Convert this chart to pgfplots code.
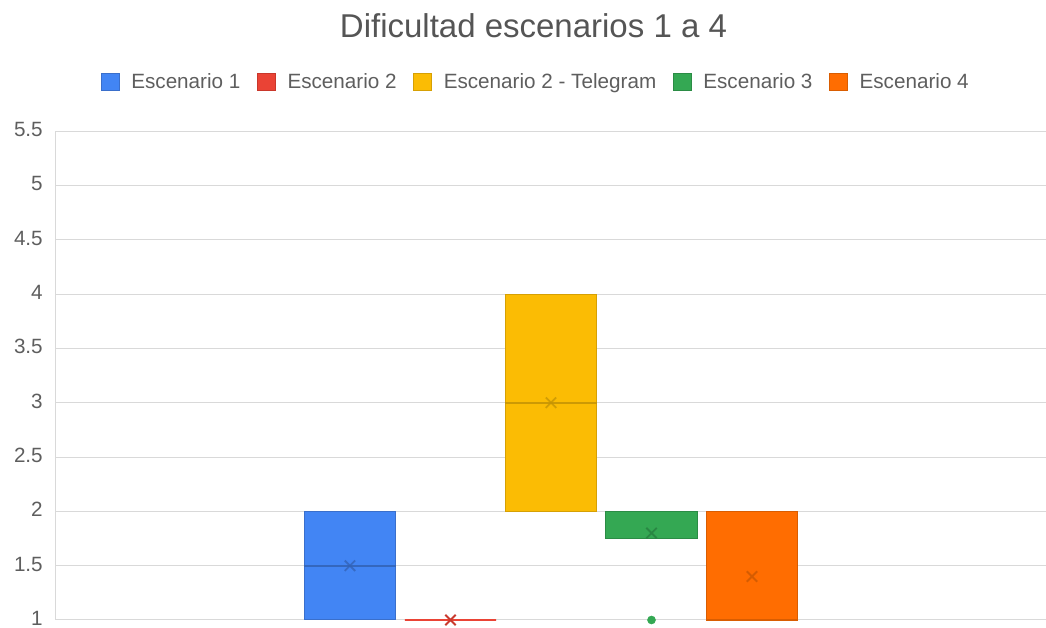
\documentclass[border=0pt]{standalone}
\usepackage{pgfplots}
\pgfplotsset{compat=1.18}
\usepgfplotslibrary{statistics}
\usepackage{fontspec}
\setmainfont{Liberation Sans}

\definecolor{cblue}{HTML}{4285F4}\definecolor{cbluedk}{HTML}{3A6FCB}\definecolor{cbluemk}{HTML}{3262B5}
\definecolor{cred}{HTML}{EA4335}\definecolor{creddk}{HTML}{C9372B}\definecolor{credmk}{HTML}{C93A2E}
\definecolor{cyel}{HTML}{FBBC04}\definecolor{cyeldk}{HTML}{D6A004}\definecolor{cyelmk}{HTML}{C49304}
\definecolor{cgrn}{HTML}{34A853}\definecolor{cgrndk}{HTML}{2B8C45}\definecolor{cgrnmk}{HTML}{267D3E}
\definecolor{corg}{HTML}{FF6D01}\definecolor{corgdk}{HTML}{D95D01}\definecolor{corgmk}{HTML}{C85701}
\definecolor{gridc}{HTML}{D9D9D9}
\definecolor{tickc}{HTML}{5E5E5E}
\definecolor{titlec}{HTML}{555555}

\begin{document}
\begin{tikzpicture}
\begin{axis}[
  at={(0,0)}, anchor=south west,
  scale only axis, width=742.5pt, height=366.75pt,
  xmin=-1.925, xmax=7.925, ymin=1, ymax=5.5,
  xtick=\empty,
  ytick={1,1.5,2,2.5,3,3.5,4,4.5,5,5.5},
  major tick length=0pt,
  ymajorgrids, grid style={gridc, line width=0.75pt},
  axis lines*=left,
  axis line style={gridc, line width=0.75pt},
  clip=false,
  /pgf/number format/assume math mode=true,
  yticklabel style={font=\fontsize{15.5pt}{18pt}\selectfont, text=tickc, inner sep=0pt, xshift=-9.75pt, yshift=1.2pt},
  legend columns=5,
  legend style={at={(0.485,1.1)}, anchor=center, draw=none, fill=none,
    font=\fontsize{15.5pt}{18pt}\selectfont, text=tickc,
    /tikz/every even column/.append style={column sep=10.5pt}},
  legend image code/.code={\draw[#1, line width=0.75pt] (0pt,-6.2pt) rectangle (13.5pt,6.2pt); \path (20.25pt,0pt);},
  boxplot/draw direction=y,
  mean/.style={forget plot, only marks, mark=x, mark size=5.5pt, line width=1.4pt, opacity=0.75},
]

% cajas (min, Q1, mediana, Q3, max)
\addplot[forget plot, fill=cblue, draw=cbluedk, boxplot prepared={draw position=1,
  lower whisker=1, lower quartile=1, median=1.5, upper quartile=2, upper whisker=2,
  box extend=0.91, every box/.style={fill=cblue, draw=cbluedk, line width=0.75pt},
  every median/.style={draw=cbluemk, line width=1.3pt, opacity=0.85}, every whisker/.style={draw=none}}]
  coordinates {};
\addplot[forget plot, draw=cred, boxplot prepared={draw position=2,
  lower whisker=1, lower quartile=1, median=1, upper quartile=1, upper whisker=1,
  box extend=0.91, every box/.style={draw=cred, line width=1.2pt},
  every median/.style={draw=cred, line width=1.2pt}, every whisker/.style={draw=none}}]
  coordinates {};
\addplot[forget plot, fill=cyel, draw=cyeldk, boxplot prepared={draw position=3,
  lower whisker=2, lower quartile=2, median=3, upper quartile=4, upper whisker=4,
  box extend=0.91, every box/.style={fill=cyel, draw=cyeldk, line width=0.75pt},
  every median/.style={draw=cyelmk, line width=1.3pt, opacity=0.85}, every whisker/.style={draw=none}}]
  coordinates {};
\addplot[forget plot, fill=cgrn, draw=cgrndk, mark=*, mark size=3pt,
  mark options={fill=cgrn, draw=cgrn}, boxplot prepared={draw position=4,
  lower whisker=1.75, lower quartile=1.75, median=2, upper quartile=2, upper whisker=2,
  box extend=0.91, every box/.style={fill=cgrn, draw=cgrndk, line width=0.75pt},
  every median/.style={draw=cgrndk, line width=1pt}, every whisker/.style={draw=none}}]
  coordinates {(0,1)};
\addplot[forget plot, fill=corg, draw=corgdk, boxplot prepared={draw position=5,
  lower whisker=1, lower quartile=1, median=1, upper quartile=2, upper whisker=2,
  box extend=0.91, every box/.style={fill=corg, draw=corgdk, line width=0.75pt},
  every median/.style={draw=corgdk, line width=1pt}, every whisker/.style={draw=none}}]
  coordinates {};

% medias
\addplot[mean, draw=cbluemk] coordinates {(1,1.5)};
\addplot[mean, draw=credmk, opacity=1] coordinates {(2,1)};
\addplot[mean, draw=cyelmk] coordinates {(3,3)};
\addplot[mean, draw=cgrnmk] coordinates {(4,1.8)};
\addplot[mean, draw=corgmk] coordinates {(5,1.4)};

\addlegendimage{fill=cblue, draw=cbluedk}
\addlegendentry{Escenario 1}
\addlegendimage{fill=cred, draw=creddk}
\addlegendentry{Escenario 2}
\addlegendimage{fill=cyel, draw=cyeldk}
\addlegendentry{Escenario 2 - Telegram}
\addlegendimage{fill=cgrn, draw=cgrndk}
\addlegendentry{Escenario 3}
\addlegendimage{fill=corg, draw=corgdk}
\addlegendentry{Escenario 4}
\end{axis}
\node[anchor=base, font=\fontsize{24.75pt}{30pt}\selectfont, text=titlec] at (358.1pt,436.5pt) {Dificultad escenarios 1 a 4};
\pgfresetboundingbox
\useasboundingbox (-42pt,-6pt) rectangle (742.5pt,465pt);
\end{tikzpicture}
\end{document}
